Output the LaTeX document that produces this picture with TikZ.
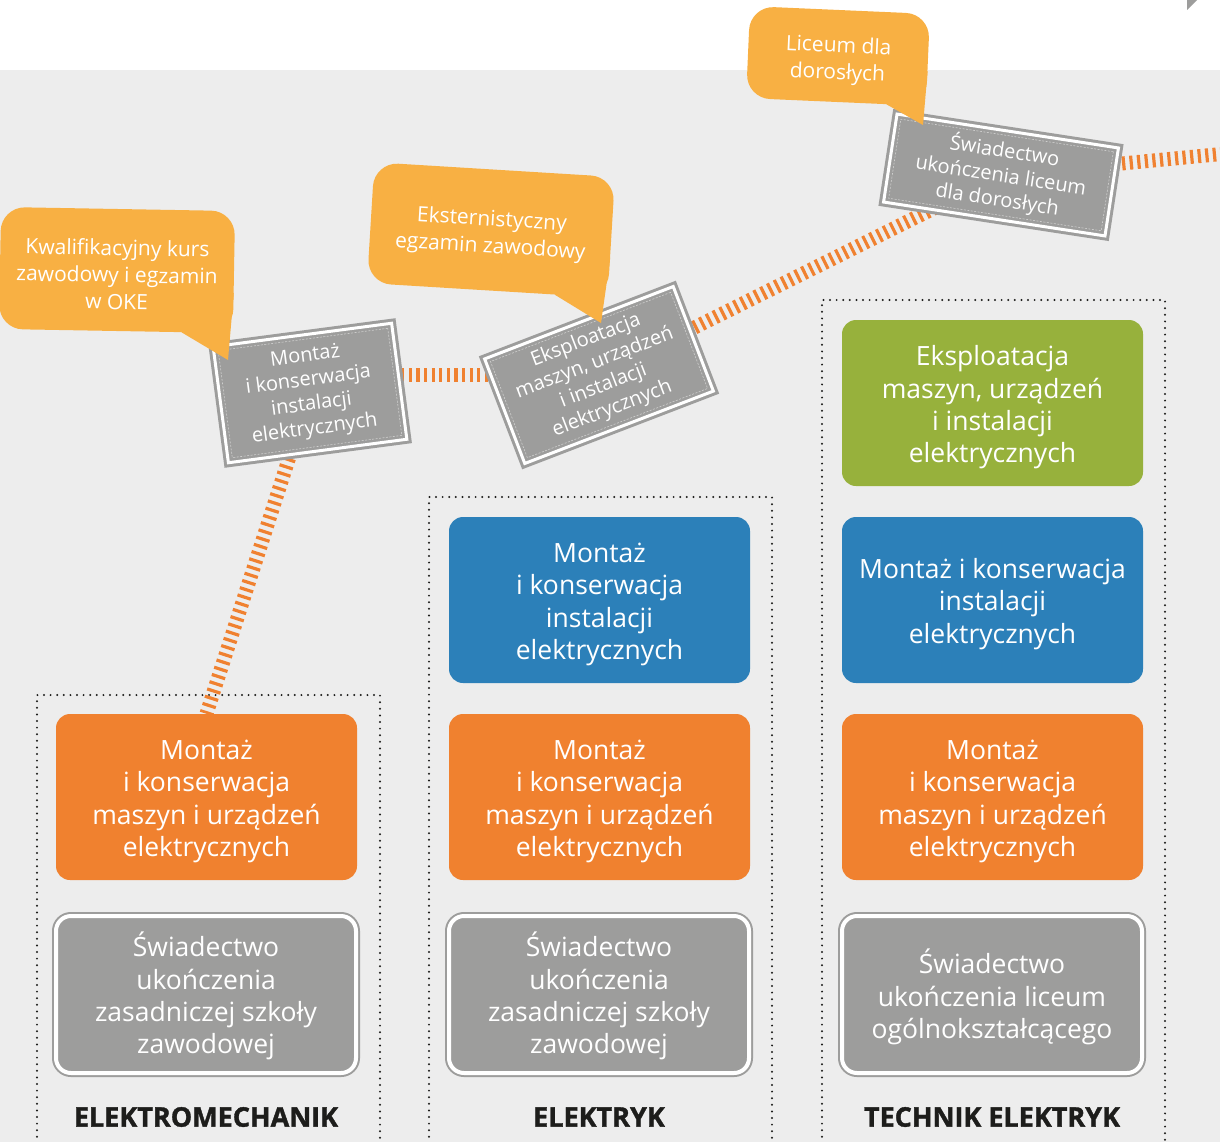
\documentclass[tikz,border=0pt]{standalone}
\usepackage{fontspec}
\setmainfont{Open Sans}
\newfontfamily\labelfont{Open Sans}[BoldFeatures={FakeBold=1.3}]
\usetikzlibrary{calc}
\definecolor{bgGrey}{HTML}{EDEDED}
\definecolor{boxGrey}{HTML}{9D9D9C}
\definecolor{dashGrey}{HTML}{CFCFCE}
\definecolor{bubOrange}{HTML}{F8B043}
\definecolor{strOrange}{HTML}{F08130}
\definecolor{boxOrange}{HTML}{F0812F}
\definecolor{boxBlue}{HTML}{2C80B9}
\definecolor{boxGreen}{HTML}{97B13C}
\definecolor{darkText}{HTML}{1D1D1B}
\pgfdeclarelayer{bglayer}
\pgfdeclarelayer{connlayer}
\pgfsetlayers{bglayer,connlayer,main}
\begin{document}
\begin{tikzpicture}[x=1pt,y=-1pt,
  colbox/.style={rounded corners=14pt, minimum width=301pt, minimum height=166pt, inner sep=0pt},
  certbox/.style={rounded corners=15pt, fill=boxGrey, draw=boxGrey, double=white,
    double distance=4pt, line width=2pt, minimum width=300pt, minimum height=157pt, inner sep=0pt},
  boxtext/.style={text=white, align=center, inner sep=0pt, font=\fontsize{26.5}{32.3}\selectfont},
  tiltbox/.style={fill=boxGrey, draw=boxGrey, double=white, double distance=3pt,
    line width=3pt, text=white, align=center, inner sep=0pt,
    font=\fontsize{20}{24.5}\selectfont},
  innerdash/.style={draw=dashGrey, line width=0.6pt, dash pattern=on 2pt off 1.5pt,
    inner sep=0pt},
  bubble/.style={fill=bubOrange, rounded corners=24pt, inner sep=0pt},
  bubtext/.style={text=white, align=center, inner sep=0pt, font=\fontsize{21}{27}\selectfont},
  bubtail/.style={fill=bubOrange},
  stripe/.style={draw=strOrange, line width=14pt, dash pattern=on 3.2pt off 4.4pt},
  dotframe/.style={draw=darkText, line width=2.2pt, dash pattern=on 0pt off 6.6pt, line cap=round},
  collabel/.style={text=darkText, font=\labelfont\bfseries\fontsize{27}{30}\selectfont, inner sep=0pt}
]
\useasboundingbox (0,0) rectangle (1220,1142);
\begin{pgfonlayer}{bglayer}
  \fill[white] (0,0) rectangle (1220,70);
  \fill[bgGrey] (0,70) rectangle (1220,1142);
  \fill[boxGrey] (1187,0) -- (1197,0) -- (1187,10) -- cycle;
  % dotted column frames
  \draw[dotframe] (37,1150) -- (37,695) -- (380,695) -- (380,1150);
  \draw[dotframe] (429,1150) -- (429,497) -- (772,497) -- (772,1150);
  \draw[dotframe] (822,1150) -- (822,300) -- (1165,300) -- (1165,1150);
\end{pgfonlayer}

% column 1
\node[colbox, fill=boxOrange] (O1) at (206.5,797) {};
\node[boxtext] (O1t) at ($(O1.center)+(0,4.5)$) {Montaż\\i konserwacja\\maszyn i urządzeń\\elektrycznych};
\node[certbox] (G1) at (206,994.5) {};
\node[boxtext] (G1t) at ($(G1.center)+(0,1.5)$) {Świadectwo\\ukończenia\\zasadniczej szkoły\\zawodowej};
\node[collabel] (L1) at (206,1117) {ELEKTROMECHANIK};

% column 2
\node[colbox, fill=boxBlue] (B2) at (599.5,600) {};
\node[boxtext] (B2t) at ($(B2.center)+(0,4.5)$) {Montaż\\i konserwacja\\instalacji\\elektrycznych};
\node[colbox, fill=boxOrange] (O2) at (599.5,797) {};
\node[boxtext] (O2t) at ($(O2.center)+(0,4.5)$) {Montaż\\i konserwacja\\maszyn i urządzeń\\elektrycznych};
\node[certbox] (G2) at (599,994.5) {};
\node[boxtext] (G2t) at ($(G2.center)+(0,1.5)$) {Świadectwo\\ukończenia\\zasadniczej szkoły\\zawodowej};
\node[collabel] (L2) at (599,1117) {ELEKTRYK};

% column 3
\node[colbox, fill=boxGreen] (E3) at (992.5,403) {};
\node[boxtext] (E3t) at ($(E3.center)+(0,4.5)$) {Eksploatacja\\maszyn, urządzeń\\i instalacji\\elektrycznych};
\node[colbox, fill=boxBlue] (B3) at (992.5,600) {};
\node[boxtext] (B3t) at ($(B3.center)+(0,4)$) {Montaż i konserwacja\\instalacji\\elektrycznych};
\node[colbox, fill=boxOrange] (O3) at (992.5,797) {};
\node[boxtext] (O3t) at ($(O3.center)+(0,4.5)$) {Montaż\\i konserwacja\\maszyn i urządzeń\\elektrycznych};
\node[certbox] (G3) at (992,994.5) {};
\node[boxtext] (G3t) at ($(G3.center)+(0,2.5)$) {Świadectwo\\ukończenia liceum\\ogólnokształcącego};
\node[collabel] (L3) at (992,1117) {TECHNIK ELEKTRYK};

% tilted certificates
\node[tiltbox, rotate=7.5, minimum width=180pt, minimum height=117pt] (A) at (310,393)
  {Montaż\\i konserwacja\\instalacji\\elektrycznych};
\node[innerdash, rotate=7.5, minimum width=171pt, minimum height=108pt] (Ad) at (A.center) {};
\node[tiltbox, rotate=21, minimum width=202pt, minimum height=112pt] (B) at (599,375)
  {Eksploatacja\\maszyn, urządzeń\\i instalacji\\elektrycznych};
\node[innerdash, rotate=21, minimum width=193pt, minimum height=103pt] (Bd) at (B.center) {};
\node[tiltbox, rotate=-8.7, minimum width=224pt, minimum height=89pt] (C) at (1001,175)
  {Świadectwo\\ukończenia liceum\\dla dorosłych};
\node[innerdash, rotate=-8.7, minimum width=215pt, minimum height=80pt] (Cd) at (C.center) {};

% striped connectors
\coordinate (edgeR) at (1232,153);
\begin{pgfonlayer}{connlayer}
  \draw[stripe] (A.center) -- (O1.north);
  \draw[stripe] (A.center |- B.center) -- (B.center);
  \draw[stripe] (B.center) -- (C.center);
  \draw[stripe] (C.center) -- (edgeR);
\end{pgfonlayer}

% speech bubbles
\node[bubble, rotate=-1, minimum width=234pt, minimum height=122pt] (b1) at (117,270) {};
\coordinate (t1) at (228,360);
\fill[bubtail] ($(b1.south east)!0.22!(b1.south west)$) -- (t1) -- ($(b1.south east)!0.33!(b1.north east)$) -- cycle;
\node[bubtext, rotate=-1] (b1t) at ($(b1.center)+(0,4.5)$) {Kwalifikacyjny kurs\\zawodowy i egzamin\\w OKE};

\node[bubble, rotate=-3.5, minimum width=241pt, minimum height=121pt] (b2) at (491,230) {};
\coordinate (t2) at (601,323);
\fill[bubtail] ($(b2.south east)!0.22!(b2.south west)$) -- (t2) -- ($(b2.south east)!0.33!(b2.north east)$) -- cycle;
\node[bubtext, rotate=-3.5] (b2t) at ($(b2.center)+(0,4)$) {Eksternistyczny\\egzamin zawodowy};

\node[bubble, rotate=-2.5, minimum width=180pt, minimum height=92pt] (b3) at (838,56) {};
\coordinate (t3) at (923,125);
\fill[bubtail] ($(b3.south east)!0.22!(b3.south west)$) -- (t3) -- ($(b3.south east)!0.38!(b3.north east)$) -- cycle;
\node[bubtext, rotate=-2.5] (b3t) at ($(b3.center)+(0,4.5)$) {Liceum dla\\dorosłych};
\end{tikzpicture}
\end{document}
